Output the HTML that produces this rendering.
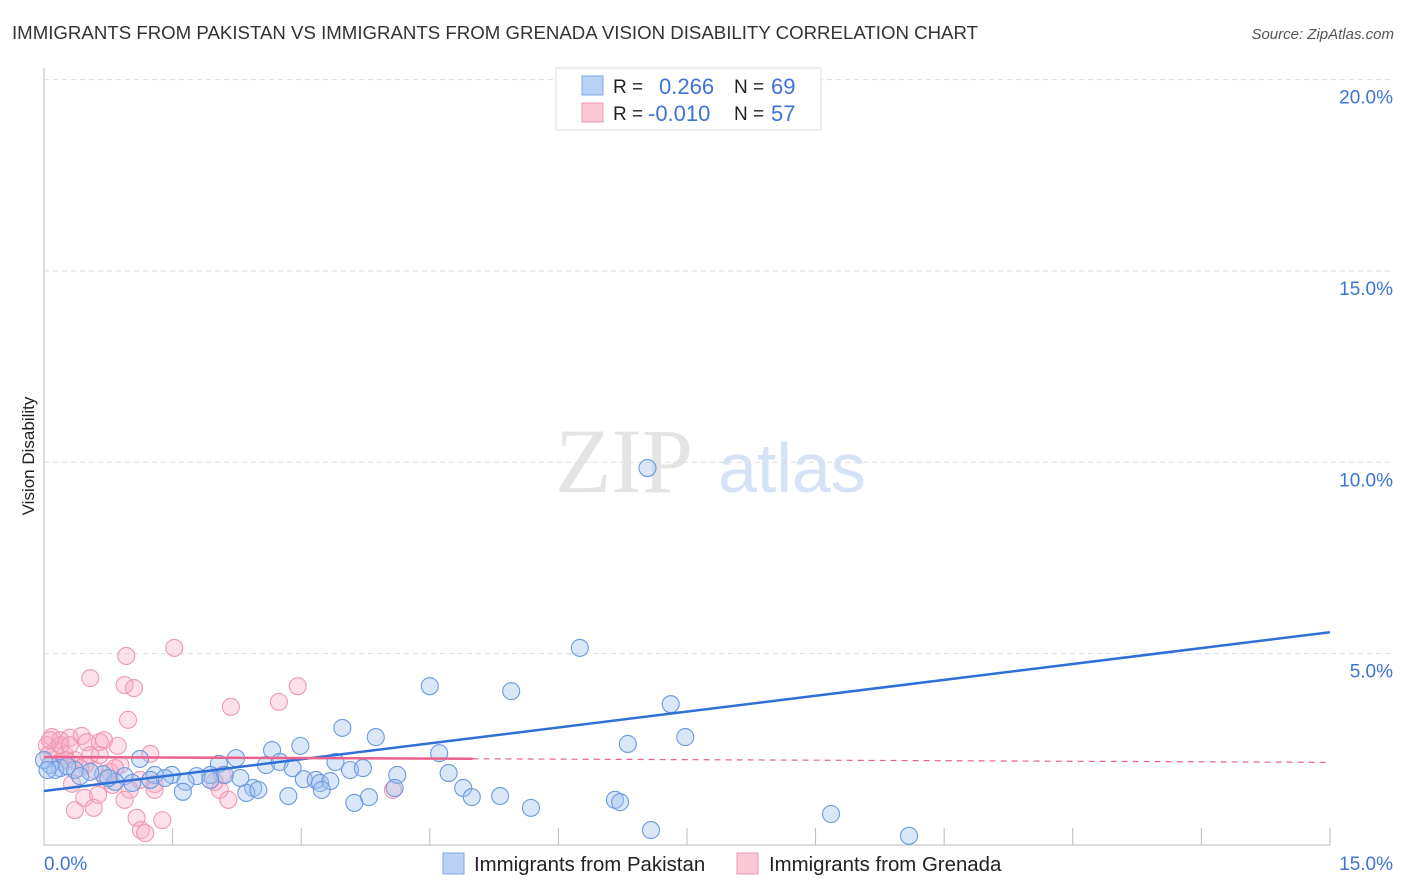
<!DOCTYPE html>
<html><head><meta charset="utf-8"><style>
body{margin:0;background:#fff;font-family:"Liberation Sans",sans-serif;}
svg{display:block}
</style></head><body>
<svg id="chart" width="1406" height="892" font-family="Liberation Sans, sans-serif">
<text x="12" y="39" font-size="18.6" fill="#333" textLength="966" lengthAdjust="spacingAndGlyphs">IMMIGRANTS FROM PAKISTAN VS IMMIGRANTS FROM GRENADA VISION DISABILITY CORRELATION CHART</text>
<text x="1394" y="39" font-size="15" fill="#555" font-style="italic" text-anchor="end">Source: ZipAtlas.com</text>
<text x="34" y="456" font-size="17" fill="#222" text-anchor="middle" transform="rotate(-90 34 456)">Vision Disability</text>
<text x="555" y="492" font-size="92" fill="#e4e4e4" font-family="Liberation Serif, serif">ZIP</text>
<text x="718" y="492" font-size="70" fill="#d6e3f6">atlas</text>
<g id="grid"></g><g id="pts"></g><g id="lines"></g>
<g>
<rect x="556" y="68" width="265" height="62" fill="#fff" stroke="#ddd"/>
<rect x="582" y="76" width="21" height="19" fill="#b9d1f5" stroke="#7aa6e6"/>
<rect x="582" y="103" width="21" height="19" fill="#fcc8d6" stroke="#ee98b2"/>
<text x="613" y="93" font-size="19" fill="#222">R = </text><text x="659" y="94" font-size="22" fill="#3d74d6">0.266</text>
<text x="734" y="93" font-size="19" fill="#222">N = </text><text x="771" y="94" font-size="22" fill="#3d74d6">69</text>
<text x="613" y="120" font-size="19" fill="#222">R = </text><text x="648" y="121" font-size="22" fill="#3d74d6">-0.010</text>
<text x="734" y="120" font-size="19" fill="#222">N = </text><text x="771" y="121" font-size="22" fill="#3d74d6">57</text>
</g>
<g>
<rect x="443" y="853" width="21" height="21" fill="#b9d1f5" stroke="#7aa6e6"/>
<text x="474" y="871" font-size="20.4" fill="#222">Immigrants from Pakistan</text>
<rect x="737" y="853" width="21" height="21" fill="#fcc8d6" stroke="#ee98b2"/>
<text x="769" y="871" font-size="20.4" fill="#222">Immigrants from Grenada</text>
</g>
</svg>
<script>
const yTicks=[5,10,15,20];
const xTickVals=[0,1.5,3,4.5,6,7.5,9,10.5,12,13.5,15];
const blueX=[7.04,6.25,4.50,5.45,7.31,3.48,3.87,7.48,6.81,2.99,2.66,4.61,2.24,1.12,3.40,2.59,2.75,2.04,2.90,3.57,3.72,4.72,4.12,1.94,2.11,1.78,1.49,1.29,0.94,0.69,0.54,0.19,0.07,0.13,0.36,0.42,0.83,1.03,1.41,1.65,1.62,1.94,2.44,2.36,2.50,2.85,3.03,3.17,3.22,3.34,3.24,3.79,3.62,4.89,4.99,5.32,5.68,6.66,6.72,7.08,9.18,10.09,4.09,0.0,0.04,0.27,0.75,1.24,2.29];
const blueY=[9.85,5.15,4.15,4.02,3.68,3.06,2.82,2.82,2.64,2.59,2.48,2.40,2.27,2.25,2.17,2.09,2.17,2.12,2.01,1.96,2.01,1.88,1.83,1.83,1.83,1.80,1.83,1.83,1.80,1.85,1.91,2.01,2.09,1.96,1.96,1.80,1.65,1.62,1.75,1.65,1.39,1.70,1.49,1.36,1.44,1.28,1.72,1.70,1.62,1.67,1.44,1.25,1.10,1.49,1.25,1.28,0.97,1.18,1.12,0.39,0.81,0.24,1.49,2.22,1.96,2.06,1.75,1.70,1.75];
const pinkX=[1.52,0.96,0.54,0.94,1.05,2.96,2.74,2.18,0.98,0.09,0.19,0.30,0.44,0.50,0.65,0.70,0.86,1.24,0.13,0.245,0.05,0.19,0.36,0.48,0.59,0.77,0.89,0.72,0.80,1.12,1.29,0.63,0.47,0.36,0.58,1.08,1.13,1.18,1.38,2.05,2.15,2.08,4.07,1.29,0.035,0.257,0.42,0.65,0.83,0.54,0.19,0.07,0.30,1.00,1.99,0.94,0.327];
const pinkY=[5.15,4.94,4.36,4.18,4.10,4.15,3.74,3.61,3.27,2.82,2.74,2.80,2.85,2.69,2.69,2.74,2.59,2.38,2.48,2.35,2.35,2.17,2.22,2.09,1.96,1.91,2.09,1.70,1.57,1.70,1.59,1.31,1.23,0.91,0.97,0.71,0.39,0.31,0.65,1.44,1.18,1.83,1.44,1.44,2.61,2.22,2.01,2.35,2.01,2.35,2.61,2.74,2.61,1.44,1.65,1.18,1.60];
const blueTrend=[1.41,5.56];
const pinkTrend=[2.30,2.16];
const pinkSolidEnd=5.0;
const X=v=>44+v*85.73, Y=v=>845-v*38.27;
const NS="http://www.w3.org/2000/svg";
function mk(t,a,p){const e=document.createElementNS(NS,t);for(const k in a)e.setAttribute(k,a[k]);p.appendChild(e);return e;}
const grid=document.getElementById('grid');
mk('line',{x1:44,y1:68,x2:44,y2:845,stroke:'#bbb'},grid);
mk('line',{x1:44,y1:845,x2:1330,y2:845,stroke:'#bbb'},grid);
yTicks.forEach(v=>{
 const l=mk('line',{x1:44,y1:Y(v),x2:1394,y2:Y(v),stroke:'#ddd','stroke-dasharray':'5,4'},grid);
 
 
 const t=mk('text',{x:1393,y:Y(v)+24,'font-size':19,fill:'#3d74d6','text-anchor':'end'},grid);
 t.textContent=v.toFixed(1)+'%';
 
 
});
xTickVals.forEach(v=>{
 const l=mk('line',{x1:X(v),y1:828,x2:X(v),y2:845,stroke:'#bbb'},grid);
 
 
});
const xl=mk('text',{x:44,y:870,'font-size':19,fill:'#3d74d6'},grid);xl.textContent='0.0%';


const xr=mk('text',{x:1393,y:870,'font-size':19,fill:'#3d74d6','text-anchor':'end'},grid);xr.textContent='15.0%';


const pts=document.getElementById('pts');
pinkX.forEach((v,i)=>{
 const c=mk('circle',{cx:X(v),cy:Y(pinkY[i]),r:8.5,fill:'rgba(248,170,195,0.35)',stroke:'#ee98b2','stroke-width':1.1},pts);
 
 
});
blueX.forEach((v,i)=>{
 const c=mk('circle',{cx:X(v),cy:Y(blueY[i]),r:8.5,fill:'rgba(160,195,240,0.4)',stroke:'#6a9ae0','stroke-width':1.1},pts);
 
 
});
const lines=document.getElementById('lines');
const pt=x=>pinkTrend[0]+(pinkTrend[1]-pinkTrend[0])*x/15;
let l1=mk('line',{x1:X(0),y1:Y(blueTrend[0]),x2:X(15),y2:Y(blueTrend[1]),stroke:'#2f6fd6','stroke-width':2.5},lines);


let l2=mk('line',{x1:X(0),y1:Y(pt(0)),x2:X(pinkSolidEnd),y2:Y(pt(pinkSolidEnd)),stroke:'#e8628c','stroke-width':2.5},lines);


let l3=mk('line',{x1:X(pinkSolidEnd),y1:Y(pt(pinkSolidEnd)),x2:X(15),y2:Y(pt(15)),stroke:'#e8628c','stroke-width':1.2,'stroke-dasharray':'6,5'},lines);


</script>
</body></html>
